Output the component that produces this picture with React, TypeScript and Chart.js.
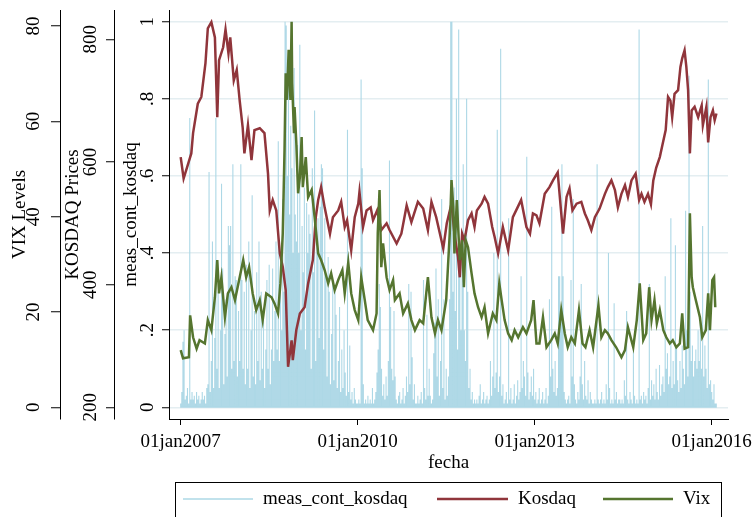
import React, { useEffect, useRef } from "react";
import { Chart, registerables } from "chart.js";

Chart.register(...registerables);

// ---------- axis ticks ----------
const xTickYears = [2007, 2010, 2013, 2016];
const vixTicks = [0, 20, 40, 60, 80];
const kosdaqTicks = [200, 400, 600, 800];
const measTicks = [0, 0.2, 0.4, 0.6, 0.8, 1];
const measTickLabels = ["0", ".2", ".4", ".6", ".8", "1"];
const monthAbbr = "jan";

// ---------- Kosdaq prices: [decimal year, price] ----------
const kosdaq: [number, number][] = [
  [2007.0, 608], [2007.05, 573], [2007.18, 614], [2007.21, 647], [2007.29, 695], [2007.35, 706],
  [2007.42, 761], [2007.46, 818], [2007.52, 828], [2007.58, 803], [2007.62, 673], [2007.65, 766],
  [2007.72, 787], [2007.76, 816], [2007.81, 777], [2007.84, 803], [2007.9, 733], [2007.95, 750],
  [2008.0, 700], [2008.05, 657], [2008.08, 614], [2008.14, 660], [2008.2, 603], [2008.25, 652],
  [2008.34, 655], [2008.42, 647], [2008.48, 581], [2008.51, 521], [2008.56, 538], [2008.62, 521],
  [2008.68, 451], [2008.73, 429], [2008.78, 391], [2008.82, 266], [2008.88, 309], [2008.9, 277],
  [2008.96, 326], [2009.02, 353], [2009.1, 363], [2009.16, 402], [2009.24, 440], [2009.29, 510],
  [2009.33, 538], [2009.38, 559], [2009.44, 526], [2009.53, 483], [2009.58, 510], [2009.67, 521],
  [2009.72, 535], [2009.78, 494], [2009.82, 505], [2009.89, 456], [2009.95, 510], [2010.01, 532],
  [2010.03, 551], [2010.09, 494], [2010.15, 521], [2010.22, 526], [2010.26, 505], [2010.33, 521],
  [2010.4, 489], [2010.49, 500], [2010.54, 489], [2010.66, 467], [2010.74, 483], [2010.83, 529],
  [2010.91, 502], [2011.02, 535], [2011.11, 524], [2011.19, 489], [2011.25, 535], [2011.33, 510],
  [2011.42, 472], [2011.45, 459], [2011.51, 500], [2011.59, 532], [2011.64, 483], [2011.7, 445],
  [2011.73, 412], [2011.77, 483], [2011.81, 472], [2011.87, 505], [2011.93, 516], [2011.98, 494],
  [2012.02, 521], [2012.1, 532], [2012.15, 543], [2012.21, 532], [2012.28, 494], [2012.32, 478],
  [2012.38, 451], [2012.46, 494], [2012.55, 456], [2012.63, 510], [2012.71, 526], [2012.77, 538],
  [2012.86, 494], [2012.92, 483], [2012.97, 516], [2013.03, 513], [2013.08, 500], [2013.17, 548],
  [2013.25, 559], [2013.31, 570], [2013.39, 583], [2013.43, 538], [2013.48, 483], [2013.54, 543],
  [2013.59, 557], [2013.64, 521], [2013.71, 532], [2013.79, 535], [2013.85, 516], [2013.9, 505],
  [2013.96, 489], [2014.02, 510], [2014.1, 524], [2014.19, 548], [2014.24, 559], [2014.3, 570],
  [2014.36, 554], [2014.41, 526], [2014.47, 548], [2014.53, 562], [2014.58, 543], [2014.64, 570],
  [2014.71, 581], [2014.77, 538], [2014.81, 548], [2014.86, 535], [2014.92, 548], [2014.97, 531],
  [2015.01, 570], [2015.06, 591], [2015.12, 608], [2015.17, 630], [2015.22, 652], [2015.26, 706],
  [2015.3, 700], [2015.33, 673], [2015.37, 711], [2015.43, 717], [2015.47, 755], [2015.5, 769],
  [2015.54, 782], [2015.57, 755], [2015.6, 717], [2015.63, 614], [2015.66, 684], [2015.71, 690],
  [2015.77, 673], [2015.83, 692], [2015.85, 660], [2015.91, 690], [2015.94, 632], [2015.98, 673],
  [2016.02, 684], [2016.05, 668], [2016.08, 679],
];

// ---------- VIX levels: [decimal year, level] ----------
const vix: [number, number][] = [
  [2007.0, 12.0], [2007.04, 10.3], [2007.14, 10.5], [2007.16, 19.3], [2007.21, 14.7], [2007.27, 12.3],
  [2007.32, 14.1], [2007.41, 13.4], [2007.46, 18.3], [2007.52, 16.2], [2007.58, 23.1], [2007.62, 30.9],
  [2007.65, 23.9], [2007.69, 27.3], [2007.75, 18.9], [2007.8, 23.9], [2007.86, 25.2], [2007.92, 22.5],
  [2008.0, 27.3], [2008.06, 30.9], [2008.11, 27.3], [2008.16, 29.4], [2008.22, 23.9], [2008.28, 20.4],
  [2008.34, 22.5], [2008.39, 18.3], [2008.45, 23.9], [2008.54, 23.1], [2008.59, 21.8], [2008.65, 19.7],
  [2008.69, 26.0], [2008.73, 36.5], [2008.76, 54.0], [2008.78, 70.1], [2008.8, 64.5], [2008.83, 75.0],
  [2008.86, 64.5], [2008.88, 80.9], [2008.89, 68.0], [2008.92, 57.5], [2008.93, 63.0], [2008.96, 55.4],
  [2008.99, 44.9], [2009.02, 48.3], [2009.05, 56.7], [2009.07, 46.2], [2009.12, 52.5], [2009.16, 44.1],
  [2009.22, 45.6], [2009.27, 39.9], [2009.33, 32.3], [2009.38, 30.9], [2009.44, 28.8], [2009.5, 26.0],
  [2009.55, 28.1], [2009.61, 24.6], [2009.67, 26.7], [2009.74, 28.8], [2009.78, 23.9], [2009.84, 30.4],
  [2009.89, 23.9], [2009.95, 20.4], [2010.01, 18.3], [2010.06, 27.3], [2010.12, 22.5], [2010.17, 18.3],
  [2010.26, 16.2], [2010.32, 19.7], [2010.34, 36.5], [2010.37, 45.6], [2010.4, 29.4], [2010.43, 34.4],
  [2010.49, 27.3], [2010.54, 24.6], [2010.6, 26.7], [2010.63, 22.5], [2010.71, 23.9], [2010.77, 19.7],
  [2010.85, 21.8], [2010.91, 18.3], [2010.97, 16.2], [2011.05, 18.3], [2011.11, 17.6], [2011.19, 27.3],
  [2011.25, 18.9], [2011.31, 15.5], [2011.36, 18.3], [2011.42, 16.2], [2011.5, 22.5], [2011.56, 36.5],
  [2011.59, 47.7], [2011.62, 42.0], [2011.64, 32.3], [2011.68, 43.5], [2011.73, 30.9], [2011.77, 35.1],
  [2011.8, 25.2], [2011.83, 35.1], [2011.87, 33.6], [2011.93, 28.1], [2011.98, 23.9], [2012.04, 21.0],
  [2012.1, 18.9], [2012.15, 21.0], [2012.21, 15.5], [2012.29, 19.7], [2012.35, 18.3], [2012.4, 26.0],
  [2012.44, 22.5], [2012.49, 18.3], [2012.55, 15.5], [2012.61, 14.1], [2012.66, 16.2], [2012.72, 14.7],
  [2012.8, 16.8], [2012.86, 15.5], [2012.94, 18.3], [2012.98, 22.5], [2013.03, 13.4], [2013.08, 13.4],
  [2013.14, 18.9], [2013.2, 12.6], [2013.28, 14.1], [2013.34, 15.5], [2013.39, 13.4], [2013.45, 20.4],
  [2013.51, 15.5], [2013.56, 12.6], [2013.62, 14.7], [2013.68, 13.4], [2013.75, 20.4], [2013.81, 13.4],
  [2013.86, 12.6], [2013.93, 16.2], [2013.99, 12.6], [2014.08, 21.4], [2014.13, 14.7], [2014.19, 16.2],
  [2014.24, 15.5], [2014.3, 14.1], [2014.38, 12.6], [2014.47, 10.5], [2014.53, 12.0], [2014.58, 16.8],
  [2014.67, 12.6], [2014.73, 18.3], [2014.78, 26.0], [2014.84, 14.1], [2014.89, 15.5], [2014.94, 25.2],
  [2014.98, 18.3], [2015.03, 22.5], [2015.07, 17.6], [2015.12, 20.4], [2015.18, 16.2], [2015.23, 14.7],
  [2015.29, 13.4], [2015.34, 14.1], [2015.4, 12.6], [2015.46, 13.4], [2015.5, 19.7], [2015.54, 12.3],
  [2015.6, 12.6], [2015.63, 40.7], [2015.66, 27.3], [2015.68, 25.2], [2015.73, 22.5], [2015.8, 18.9],
  [2015.84, 14.7], [2015.9, 16.2], [2015.94, 23.9], [2015.97, 16.2], [2016.01, 26.7], [2016.04, 27.3],
  [2016.06, 21.0],
];

// ---------- meas_cont_kosdaq: weekly values, first week = start of 2007 ----------
const measStartYear = 2007;
const meas2007 = [
  0.01, 0.04, 0.17, 0.2, 0.02, 0.03, 0.05, 0.01, 0.75, 0.02, 0.04, 0.02, 0.03,
  0.01, 0.04, 0.02, 0.03, 0.01, 0.02, 0.04, 0.02, 0.03, 0.01, 0.05, 0.06, 0.61,
  0.04, 0.12, 0.43, 0.05, 0.18, 0.75, 0.1, 0.3, 0.05, 0.2, 0.58, 0.36, 0.06,
  0.19, 0.28, 0.08, 0.47, 0.42, 0.47, 0.1, 0.63, 0.12, 0.34, 0.33, 0.08, 0.25,
];
const meas2008 = [
  0.12, 0.63, 0.33, 0.1, 0.3, 0.06, 0.37, 0.1, 0.43, 0.05, 0.2, 0.55, 0.08,
  0.25, 0.06, 0.35, 0.12, 0.43, 0.07, 0.3, 0.1, 0.23, 0.05, 0.15, 0.33, 0.1,
  0.37, 0.06, 0.15, 0.36, 0.12, 0.25, 0.43, 0.15, 0.69, 0.12, 0.37, 0.2, 0.54,
  0.3, 1.0, 0.99, 0.6, 0.89, 0.5, 0.73, 0.62, 0.4, 0.88, 0.5, 0.43, 0.68,
];
const meas2009 = [
  0.4, 0.94, 0.2, 0.47, 0.35, 0.57, 0.15, 0.53, 0.4, 0.5, 0.45, 0.1, 0.62,
  0.35, 0.77, 0.12, 0.43, 0.49, 0.18, 0.52, 0.63, 0.62, 0.15, 0.49, 0.34, 0.08,
  0.39, 0.3, 0.06, 0.19, 0.33, 0.07, 0.3, 0.24, 0.05, 0.12, 0.26, 0.04, 0.15,
  0.05, 0.2, 0.09, 0.03, 0.72, 0.04, 0.16, 0.02, 0.04, 0.01, 0.05, 0.02, 0.01,
];
const meas2010 = [
  0.01, 0.02, 0.01, 0.85, 0.62, 0.06, 0.01, 0.02, 0.01, 0.03, 0.01, 0.02, 0.01,
  0.05, 0.01, 0.02, 0.04, 0.09, 0.15, 0.32, 0.26, 0.1, 0.03, 0.06, 0.02, 0.08,
  0.03, 0.12, 0.64, 0.26, 0.1, 0.07, 0.25, 0.08, 0.02, 0.01, 0.03, 0.04, 0.01,
  0.02, 0.05, 0.01, 0.03, 0.08, 0.04, 0.32, 0.06, 0.3, 0.13, 0.02, 0.06, 0.01,
];
const meas2011 = [
  0.01, 0.03, 0.01, 0.02, 0.04, 0.01, 0.33, 0.05, 0.02, 0.24, 0.03, 0.1, 0.03,
  0.01, 0.02, 0.14, 0.22, 0.36, 0.08, 0.28, 0.03, 0.12, 0.54, 0.05, 0.28, 0.02,
  0.1, 0.03, 0.08, 0.28, 1.0, 1.0, 0.3, 0.57, 0.25, 0.8, 0.15, 0.98, 0.39,
  0.2, 0.45, 0.63, 0.2, 0.12, 0.8, 0.3, 0.05, 0.1, 0.02, 0.04, 0.01, 0.02,
];
const meas2012 = [
  0.01, 0.02, 0.01, 0.03, 0.06, 0.01, 0.02, 0.04, 0.01, 0.02, 0.03, 0.01, 0.02,
  0.12, 0.03, 0.08, 0.4, 0.05, 0.09, 0.72, 0.04, 0.08, 0.93, 0.03, 0.06, 0.01,
  0.02, 0.04, 0.01, 0.49, 0.02, 0.05, 0.01, 0.02, 0.06, 0.01, 0.03, 0.07, 0.02,
  0.04, 0.34, 0.05, 0.12, 0.08, 0.03, 0.65, 0.09, 0.02, 0.04, 0.08, 0.03, 0.1,
];
const meas2013 = [
  0.02, 0.04, 0.01, 0.02, 0.05, 0.01, 0.02, 0.04, 0.01, 0.02, 0.05, 0.01, 0.03,
  0.28, 0.08, 0.52, 0.1, 0.04, 0.12, 0.03, 0.05, 0.34, 0.34, 0.25, 0.63, 0.34,
  0.04, 0.02, 0.01, 0.02, 0.03, 0.01, 0.33, 0.08, 0.54, 0.06, 0.02, 0.01, 0.04,
  0.02, 0.08, 0.32, 0.06, 0.02, 0.12, 0.03, 0.02, 0.07, 0.01, 0.04, 0.02, 0.01,
];
const meas2014 = [
  0.01, 0.02, 0.01, 0.63, 0.02, 0.01, 0.02, 0.04, 0.01, 0.02, 0.01, 0.06, 0.02,
  0.4, 0.05, 0.01, 0.02, 0.01, 0.27, 0.02, 0.04, 0.01, 0.02, 0.02, 0.01, 0.02,
  0.01, 0.07, 0.03, 0.25, 0.02, 0.01, 0.04, 0.02, 0.01, 0.15, 0.03, 0.01, 0.02,
  0.01, 0.98, 0.02, 0.03, 0.01, 0.04, 0.02, 0.03, 0.01, 0.05, 0.32, 0.02, 0.07,
];
const meas2015 = [
  0.03, 0.06, 0.02, 0.1, 0.04, 0.02, 0.11, 0.03, 0.06, 0.08, 0.04, 0.34, 0.1,
  0.14, 0.06, 0.08, 0.49, 0.05, 0.12, 0.06, 0.42, 0.16, 0.07, 0.04, 0.12, 0.05,
  0.16, 0.1, 0.06, 0.51, 0.2, 0.08, 0.86, 0.3, 0.12, 0.16, 0.08, 0.12, 0.15,
  0.1, 0.2, 0.12, 0.22, 0.1, 0.47, 0.08, 0.16, 0.1, 0.05, 0.85, 0.06, 0.07,
];
const meas2016 = [0.04, 0.02, 0.06, 0.01, 0.01];

const measWeekly = [
  ...meas2007, ...meas2008, ...meas2009, ...meas2010, ...meas2011,
  ...meas2012, ...meas2013, ...meas2014, ...meas2015, ...meas2016,
];

// ---------- styling ----------
const FONT = '"Liberation Serif", "Times New Roman", Times, serif';
const FS = 19;
const kosdaqColor = "#90353b";
const vixColor = "#55752f";
const measColor = "#add8e6";
const gridColor = "#e4eef1";

const stataPlugin = {
  id: "stataText",
  afterDraw(chart: any) {
    const ctx: CanvasRenderingContext2D = chart.ctx;
    const area = chart.chartArea;
    ctx.save();
    ctx.fillStyle = "#000";
    ctx.font = `${FS}px ${FONT}`;
    ctx.textAlign = "center";
    ctx.textBaseline = "middle";

    const rotText = (txt: string, x: number, y: number) => {
      ctx.save();
      ctx.translate(x, y);
      ctx.rotate(-Math.PI / 2);
      ctx.fillText(txt, 0, 0);
      ctx.restore();
    };

    const yAxes: [string, number[], string[], number, string, number][] = [
      ["yVix", vixTicks, vixTicks.map(String), 26, "VIX Levels", 20],
      ["yKos", kosdaqTicks, kosdaqTicks.map(String), 23, "KOSDAQ Prices", 73.5],
      ["yMeas", measTicks, measTickLabels, 21, "meas_cont_kosdaq", 131.5],
    ];
    const midY = (area.top + area.bottom) / 2;
    for (const [id, vals, labels, off, title, tx] of yAxes) {
      const s = chart.scales[id];
      vals.forEach((v, i) => rotText(labels[i], s.right - off, s.getPixelForValue(v)));
      rotText(title, tx, midY);
    }

    const xs = chart.scales.x;
    xTickYears.forEach((yr) => {
      ctx.fillText(`01${monthAbbr}${yr}`, xs.getPixelForValue(yr), 442);
    });
    ctx.fillText("fecha", (area.left + area.right) / 2, 463);

    // legend box
    ctx.strokeStyle = "#000";
    ctx.lineWidth = 1;
    ctx.strokeRect(175.5, 482.5, 546, 40);
    const items: [string, string, number, number, number][] = [
      ["meas_cont_kosdaq", measColor, 183, 253, 1.5],
      ["Kosdaq", kosdaqColor, 437, 508, 2.5],
      ["Vix", vixColor, 603, 673, 2.5],
    ];
    ctx.textAlign = "left";
    for (const [label, color, x0, x1, w] of items) {
      ctx.strokeStyle = color;
      ctx.lineWidth = w;
      ctx.beginPath();
      ctx.moveTo(x0, 499);
      ctx.lineTo(x1, 499);
      ctx.stroke();
      ctx.fillText(label, x1 + 10, 499);
    }
    ctx.restore();
  },
};

function yScale(min: number, max: number, ticks: number[], weight: number, width: number, tickLength: number, onArea: boolean) {
  return {
    type: "linear",
    position: "left",
    weight,
    min,
    max,
    afterBuildTicks: (s: any) => {
      s.ticks = ticks.map((value) => ({ value }));
    },
    afterFit: (s: any) => {
      s.width = width;
    },
    ticks: { display: false },
    grid: {
      display: true,
      drawOnChartArea: onArea,
      drawTicks: true,
      tickLength,
      color: gridColor,
      lineWidth: 1.5,
      tickColor: "#000",
      tickWidth: 1,
    },
    border: { display: true, color: "#000", width: 1 },
    title: { display: false },
  };
}

// each weekly value is drawn as a vertical spike rising from zero
const measSpikes = measWeekly.flatMap((y, i) => {
  const x = measStartYear + i / 52;
  return [
    { x, y: 0 },
    { x, y },
    { x, y: 0 },
  ];
});

export default function App() {
  const ref = useRef<HTMLCanvasElement>(null);
  useEffect(() => {
    if (!ref.current) return;
    const chart = new Chart(ref.current, {
      type: "line",
      data: {
        datasets: [
          {
            label: "Vix",
            data: vix.map(([x, y]) => ({ x, y })),
            yAxisID: "yVix",
            borderColor: vixColor,
            borderWidth: 2.5,
            pointRadius: 0,
            tension: 0,
            order: 1,
          },
          {
            label: "Kosdaq",
            data: kosdaq.map(([x, y]) => ({ x, y })),
            yAxisID: "yKos",
            borderColor: kosdaqColor,
            borderWidth: 2.5,
            pointRadius: 0,
            tension: 0,
            order: 2,
          },
          {
            label: "meas_cont_kosdaq",
            data: measSpikes,
            yAxisID: "yMeas",
            borderColor: measColor,
            borderWidth: 1.1,
            pointRadius: 0,
            tension: 0,
            order: 3,
          },
        ],
      },
      options: {
        animation: false,
        responsive: false,
        events: [],
        layout: { padding: { left: 0, right: 28, top: 10, bottom: 0 } },
        plugins: { legend: { display: false }, tooltip: { enabled: false } },
        scales: {
          x: {
            type: "linear",
            position: "bottom",
            min: 2006.802,
            max: 2016.276,
            afterBuildTicks: (s: any) => {
              s.ticks = xTickYears.map((value) => ({ value }));
            },
            afterFit: (s: any) => {
              s.height = 98;
            },
            ticks: { display: false },
            grid: {
              display: true,
              drawOnChartArea: false,
              drawTicks: true,
              tickLength: 6,
              color: "#000",
              tickColor: "#000",
              tickWidth: 1,
            },
            border: { display: true, color: "#000", width: 1 },
          },
          yVix: yScale(-2.45, 83.36, vixTicks, 3, 60, 9, false),
          yKos: yScale(180.9, 847.8, kosdaqTicks, 2, 54, 8, false),
          yMeas: yScale(-0.0303, 1.0303, measTicks, 1, 55, 7, true),
        },
      } as any,
      plugins: [stataPlugin],
    } as any);
    return () => chart.destroy();
  }, []);
  return (
    <div style={{ position: "fixed", left: 0, top: 0, width: 756, height: 517, background: "#fff" }}>
      <canvas ref={ref} width={756} height={517} style={{ display: "block", width: 756, height: 517 }} />
    </div>
  );
}
